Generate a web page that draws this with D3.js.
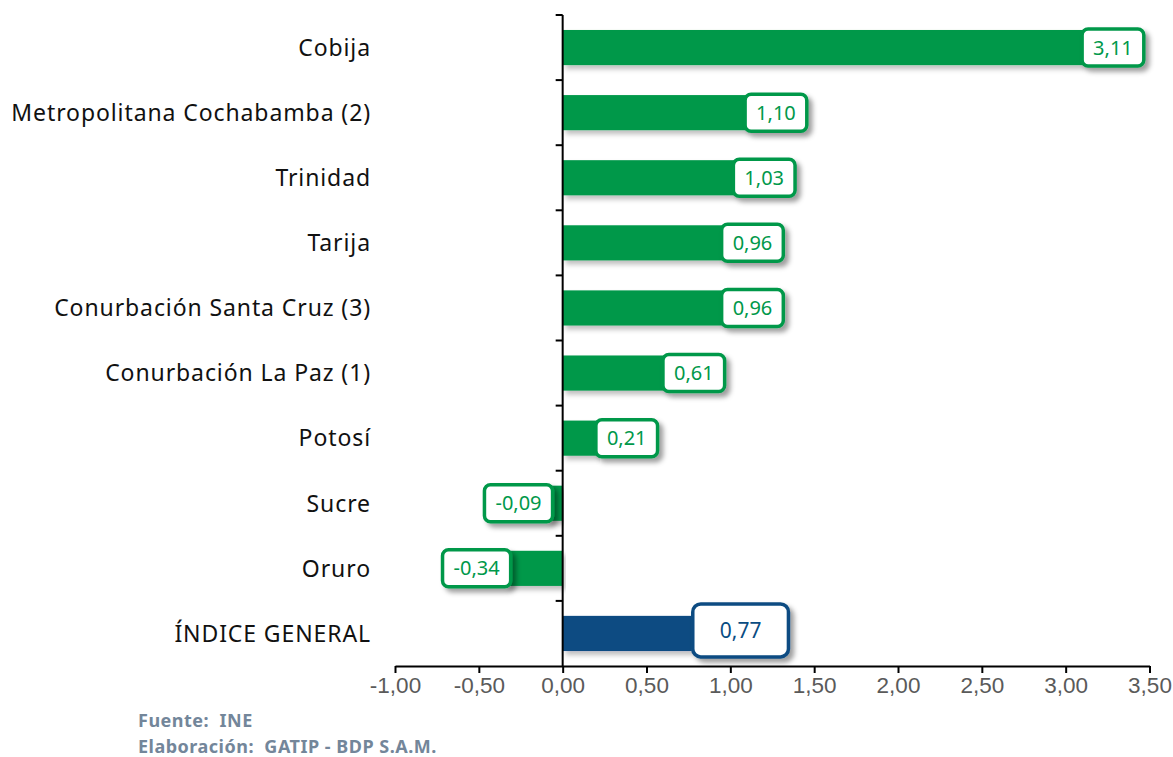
<!DOCTYPE html>
<html><head><meta charset="utf-8">
<script src="https://cdn.jsdelivr.net/npm/d3@7"></script>
<style>html,body{margin:0;padding:0;background:#fff;}svg{display:block;}</style>
</head><body>
<svg id="chart" width="1173" height="757"></svg>
<script>
const categories = ["Cobija","Metropolitana Cochabamba (2)","Trinidad","Tarija","Conurbación Santa Cruz (3)","Conurbación La Paz (1)","Potosí","Sucre","Oruro","ÍNDICE GENERAL"];
const values = [3.11,1.10,1.03,0.96,0.96,0.61,0.21,-0.09,-0.34,0.77];
const valueLabels = ["3,11","1,10","1,03","0,96","0,96","0,61","0,21","-0,09","-0,34","0,77"];
const xTicks = [-1,-0.5,0,0.5,1,1.5,2,2.5,3,3.5];
const xTickLabels = ["-1,00","-0,50","0,00","0,50","1,00","1,50","2,00","2,50","3,00","3,50"];
const sources = ["Fuente:  INE","Elaboración:  GATIP - BDP S.A.M."];

const GREEN = "#00984a", BLUE = "#0a4c82";
const svg = d3.select("#chart");
const x = d3.scaleLinear().domain([-1,3.5]).range([395,1149.5]);
const y = d3.scaleBand().domain(categories).range([15,666]).paddingInner(0.46).paddingOuter(0.23);

const defs = svg.append("defs");
const f = defs.append("filter").attr("id","sh").attr("x","-20%").attr("y","-30%").attr("width","150%").attr("height","180%");
f.append("feDropShadow").attr("dx",4).attr("dy",4).attr("stdDeviation",2.5).attr("flood-color","#000").attr("flood-opacity",0.38);
const fb = defs.append("filter").attr("id","shb").attr("x","-5%").attr("y","-30%").attr("width","110%").attr("height","180%");
fb.append("feDropShadow").attr("dx",3).attr("dy",4).attr("stdDeviation",2.5).attr("flood-color","#000").attr("flood-opacity",0.25);

const isGeneral = (d,i) => i === categories.length-1;
const data = categories.map((c,i)=>({c, v:values[i], lab:valueLabels[i], i}));

// bars
svg.append("g").selectAll("rect").data(data).join("rect")
  .attr("x", d=>x(Math.min(0,d.v)))
  .attr("y", d=>y(d.c))
  .attr("width", d=>Math.abs(x(d.v)-x(0)))
  .attr("height", y.bandwidth())
  .attr("fill", d=>isGeneral(d,d.i)?BLUE:GREEN)
  .attr("filter","url(#shb)");

// axes
const ax = svg.append("g").attr("transform","translate(0,666)")
  .call(d3.axisBottom(x).tickValues(xTicks).tickSize(7).tickSizeOuter(0).tickFormat((d,i)=>xTickLabels[i]));
ax.select(".domain").attr("stroke","#000").attr("stroke-width",2);
ax.selectAll(".tick line").attr("stroke","#000").attr("stroke-width",2);
ax.selectAll(".tick text").attr("fill","#5a5a5a").attr("font-family","'Liberation Sans Narrow','Liberation Sans',Arial,sans-serif")
  .attr("font-size",22.5).attr("dy","0.95em").attr("y",6);

// y axis line and band-boundary ticks
svg.append("line").attr("x1",x(0)).attr("x2",x(0)).attr("y1",15).attr("y2",666).attr("stroke","#000").attr("stroke-width",2);
const step = y.step();
const yb = d3.range(categories.length).map(i=>15+i*step);
svg.append("g").selectAll("line").data(yb).join("line")
  .attr("x1",x(0)-7).attr("x2",x(0)).attr("y1",d=>d).attr("y2",d=>d).attr("stroke","#000").attr("stroke-width",2);

// category labels
svg.append("g").selectAll("text").data(data).join("text")
  .attr("x",371).attr("y",d=>y(d.c)+y.bandwidth()/2).attr("dy","0.36em")
  .attr("text-anchor","end").attr("font-family","'Noto Sans',sans-serif").attr("font-size",23).attr("letter-spacing",0.9).attr("fill","#111")
  .text(d=>d.c);

// value boxes
const lg = svg.append("g").selectAll("g").data(data).join("g");
lg.each(function(d){
  const g = d3.select(this);
  const gen = isGeneral(d,d.i);
  const fs = gen?21:20;
  const col = gen?BLUE:GREEN;
  const t = g.append("text").attr("font-family","'Noto Sans',sans-serif").attr("font-size",fs).attr("fill",col)
    .attr("text-anchor","middle").attr("dy","0.35em").text(d.lab);
  const tw = t.node().getComputedTextLength();
  const bw = gen ? tw+54 : tw+22;
  const bh = gen ? 53 : 37;
  const cy = y(d.c)+y.bandwidth()/2 + (gen?-3:0);
  let bx = d.v>=0 ? x(d.v)+(gen?1:-2) : x(d.v)+5-bw;
  g.insert("rect","text").attr("x",bx).attr("y",cy-bh/2).attr("width",bw).attr("height",bh)
    .attr("rx",gen?8:6).attr("fill","#fff").attr("stroke",col).attr("stroke-width",3.5).attr("filter","url(#sh)");
  t.attr("x",bx+bw/2).attr("y",cy);
});

// sources
svg.append("g").selectAll("text").data(sources).join("text")
  .attr("x",138).attr("y",(d,i)=>727+i*26).attr("xml:space","preserve").style("white-space","pre")
  .attr("font-family","'Noto Sans',sans-serif").attr("font-weight","bold").attr("font-size",18).attr("letter-spacing",0.5).attr("fill","#73869a")
  .text(d=>d);
</script>
</body></html>
